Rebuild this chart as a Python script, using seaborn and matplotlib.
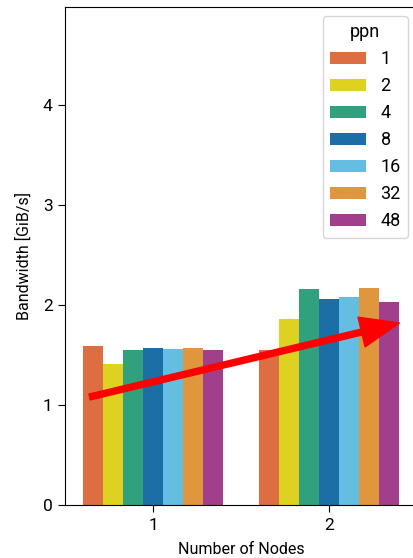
import pandas as pd
import matplotlib.pyplot as plt
import seaborn as sns

# bandwidth per node count and processes per node
nodes = [1, 2]
ppn = [1, 2, 4, 8, 16, 32, 48]
bw_1node = [1.59, 1.41, 1.55, 1.57, 1.56, 1.57, 1.55]
bw_2node = [1.55, 1.86, 2.16, 2.06, 2.08, 2.17, 2.03]

colors = ['#DD6E42', '#DDD21F', '#30A07D', '#1B6EA6', '#63BEE2', '#E0963C', '#A23F8C']

# trend arrow (start, end) in data coords
arrow_start = (-0.36, 1.08)
arrow_end = (1.40, 1.82)

df = pd.DataFrame({
    'Number of Nodes': [1] * len(ppn) + [2] * len(ppn),
    'ppn': ppn + ppn,
    'Bandwidth': bw_1node + bw_2node,
})

plt.rcParams['font.family'] = ['Roboto', 'DejaVu Sans']

fig = plt.figure(figsize=(4.13, 5.58), dpi=100)
# axes runs slightly past the right edge, like the cropped original
ax = fig.add_axes([65 / 413, 53 / 558, 352 / 413, 498 / 558])

sns.barplot(data=df, x='Number of Nodes', y='Bandwidth', hue='ppn',
            palette=colors, linewidth=0, saturation=1, ax=ax)

ax.set_ylim(0, 4.98)
ax.set_yticks([0, 1, 2, 3, 4])
ax.set_xlabel('Number of Nodes', fontsize=11.5, labelpad=7)
ax.set_ylabel('Bandwidth [GiB/s]', fontsize=11.5, labelpad=8)
ax.tick_params(labelsize=12.5, length=5, pad=4)
ax.spines['right'].set_visible(False)

ax.legend(title='ppn', loc='upper right', fontsize=13, title_fontsize=13,
          labelspacing=0.5, borderaxespad=0.5)

ax.annotate('', xy=arrow_end, xytext=arrow_start,
            arrowprops=dict(facecolor='red', edgecolor='red', width=4.3,
                            headwidth=22, headlength=28, shrink=0))

fig.savefig('out.png', dpi=100)
